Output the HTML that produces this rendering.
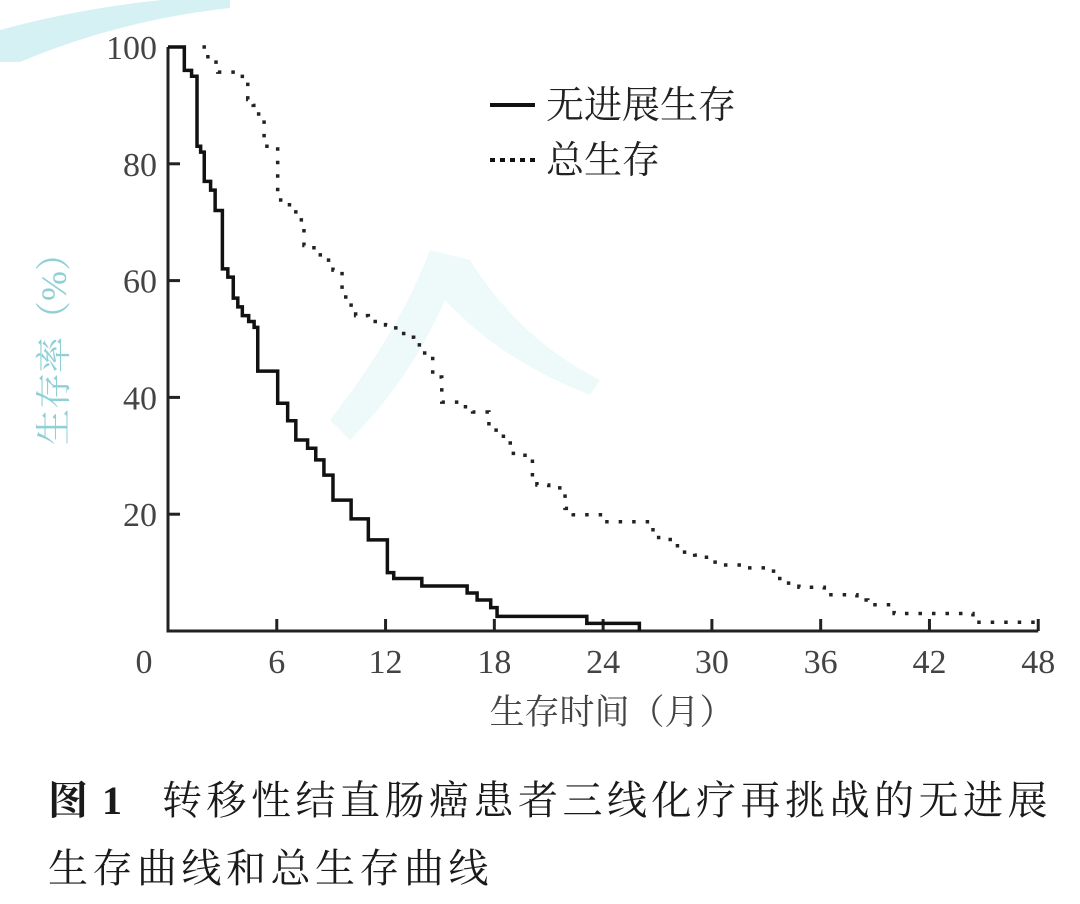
<!DOCTYPE html>
<html><head><meta charset="utf-8">
<style>
html,body{margin:0;padding:0;background:#fff;}
#wrap{position:relative;width:1080px;height:904px;overflow:hidden;}
svg text{font-family:"Liberation Serif","Noto Serif CJK SC",serif;}
.cap{position:absolute;left:48px;font-family:"Liberation Serif","Noto Serif CJK SC",serif;font-size:40px;color:#1a1a1a;letter-spacing:4.5px;white-space:nowrap;}
</style></head>
<body>
<div id="wrap">
<svg id="chart" width="1080" height="740">
  <path d="M0,30 Q110,0 230,-5 L230,8 Q120,20 20,62 L0,62 Z" fill="#d6f1f3"/>
  <path d="M330,420 Q400,330 430,250 L470,260 Q520,340 600,380 L590,395 Q500,360 445,300 Q410,380 350,440 Z" fill="#eef9fa"/>
  <g id="axes"></g>
  <g id="series"></g>
  <g>
    <line x1="490" y1="105" x2="535" y2="105" stroke="#111" stroke-width="4"/>
    <text x="546" y="118" font-size="38" fill="#222">无进展生存</text>
    <line x1="490" y1="160" x2="535" y2="160" stroke="#111" stroke-width="4" stroke-dasharray="5 5"/>
    <text x="546" y="173" font-size="38" fill="#222">总生存</text>
  </g>
  <text x="612" y="724" font-size="35" fill="#444" text-anchor="middle">生存时间（月）</text>
  <text transform="translate(66,340) rotate(-90)" font-size="36" fill="#8fd0d6" text-anchor="middle">生存率（%）</text>
</svg>
<div class="cap" style="top:769px;"><b style="letter-spacing:2px">图 1</b><span style="display:inline-block;width:38px"></span>转移性结直肠癌患者三线化疗再挑战的无进展</div>
<div class="cap" style="top:837px;">生存曲线和总生存曲线</div>
</div>
<script>
const xTicks = [0,6,12,18,24,30,36,42,48];
const yTicks = [20,40,60,80,100];
const pfsT = [0.9,1.3,1.6,1.8,2.0,2.35,2.6,3.0,3.3,3.6,3.85,4.1,4.45,4.75,4.95,6.05,6.6,7.05,7.7,8.15,8.6,9.1,10.1,11.05,12.1,12.45,14.0,16.5,17.05,17.8,18.15,23.1,26.0];
const pfsS = [96,95,83,82,77,75.5,72,62,60.6,57,55.5,54,53,52,44.5,39,36,32.7,31.3,29.3,26.7,22.4,19.2,15.6,10,9,7.7,6.5,5.3,4,2.5,1.3,0];
const osT = [2.2,2.75,4.1,4.4,4.7,5.0,5.3,6.05,6.7,7.05,7.5,8.05,8.4,9.1,9.6,10.1,10.35,11.05,12.0,12.45,13.0,13.55,14.0,14.6,15.1,16.1,16.8,17.7,18.5,19.05,20.1,20.35,21.0,21.9,22.35,24.0,26.75,27.7,28.1,29.05,29.7,30.3,31.9,33.4,34.0,34.8,36.2,38.0,38.6,40.05,44.4];
const osS = [97.4,95.7,94,91,90,88,83,73.8,72.4,70.4,66,65,63.5,61.8,57.2,55.8,54,53,52.4,51.9,50.3,49,47.6,43.5,39.2,38.4,37.5,34.4,32.2,30.1,26.4,25,24.5,21,19.9,18.7,16,15,13.5,13,11.8,11.3,10.8,9,8.2,7.5,6.2,5.3,4.5,3,1.5];
const osStart = 1.9, osEnd = 48;

const NS = "http://www.w3.org/2000/svg";
const X = m => 168 + m * 18.13;
const Y = p => 631 - p * 5.84;
function mk(tag, attrs, parent){const e=document.createElementNS(NS,tag);for(const k in attrs)e.setAttribute(k,attrs[k]);parent.appendChild(e);return e;}
const axes = document.getElementById('axes');
let a = mk('path',{d:`M${X(0)},${Y(100)} L${X(0)},${Y(0)} L${X(48)},${Y(0)}`,fill:'none',stroke:'#222','stroke-width':3},axes);


xTicks.forEach(t=>{
  if(t>0){const l=mk('line',{x1:X(t),x2:X(t),y1:Y(0),y2:Y(0)-12,stroke:'#222','stroke-width':3},axes);
  
  }
  const tx=mk('text',{x:t===0?X(t)-24:X(t),y:673,'font-size':34,fill:'#444','text-anchor':'middle'},axes);
  tx.textContent=t;
  
  
});
yTicks.forEach(t=>{
  if(t<100){const l=mk('line',{x1:X(0),x2:X(0)+12,y1:Y(t),y2:Y(t),stroke:'#222','stroke-width':3},axes);
  
  }
  const tx=mk('text',{x:157,y:Y(t)+12,'font-size':34,fill:'#444','text-anchor':'end'},axes);
  tx.textContent=t;
  
  
});
function stepPath(t0,T,S,tEnd){
  let d=`M${X(t0)},${Y(100)}`;let prev=100;
  for(let i=0;i<T.length;i++){d+=` L${X(T[i])},${Y(prev)} L${X(T[i])},${Y(S[i])}`;prev=S[i];}
  if(tEnd!==undefined)d+=` L${X(tEnd)},${Y(prev)}`;
  return d;
}
const ser=document.getElementById('series');
const p1=mk('path',{d:stepPath(0,pfsT,pfsS),fill:'none',stroke:'#111','stroke-width':3.5},ser);


const p2=mk('path',{d:stepPath(osStart,osT,osS,osEnd),fill:'none',stroke:'#222','stroke-width':3.5,'stroke-dasharray':'3.5 10'},ser);


</script>
</body></html>
